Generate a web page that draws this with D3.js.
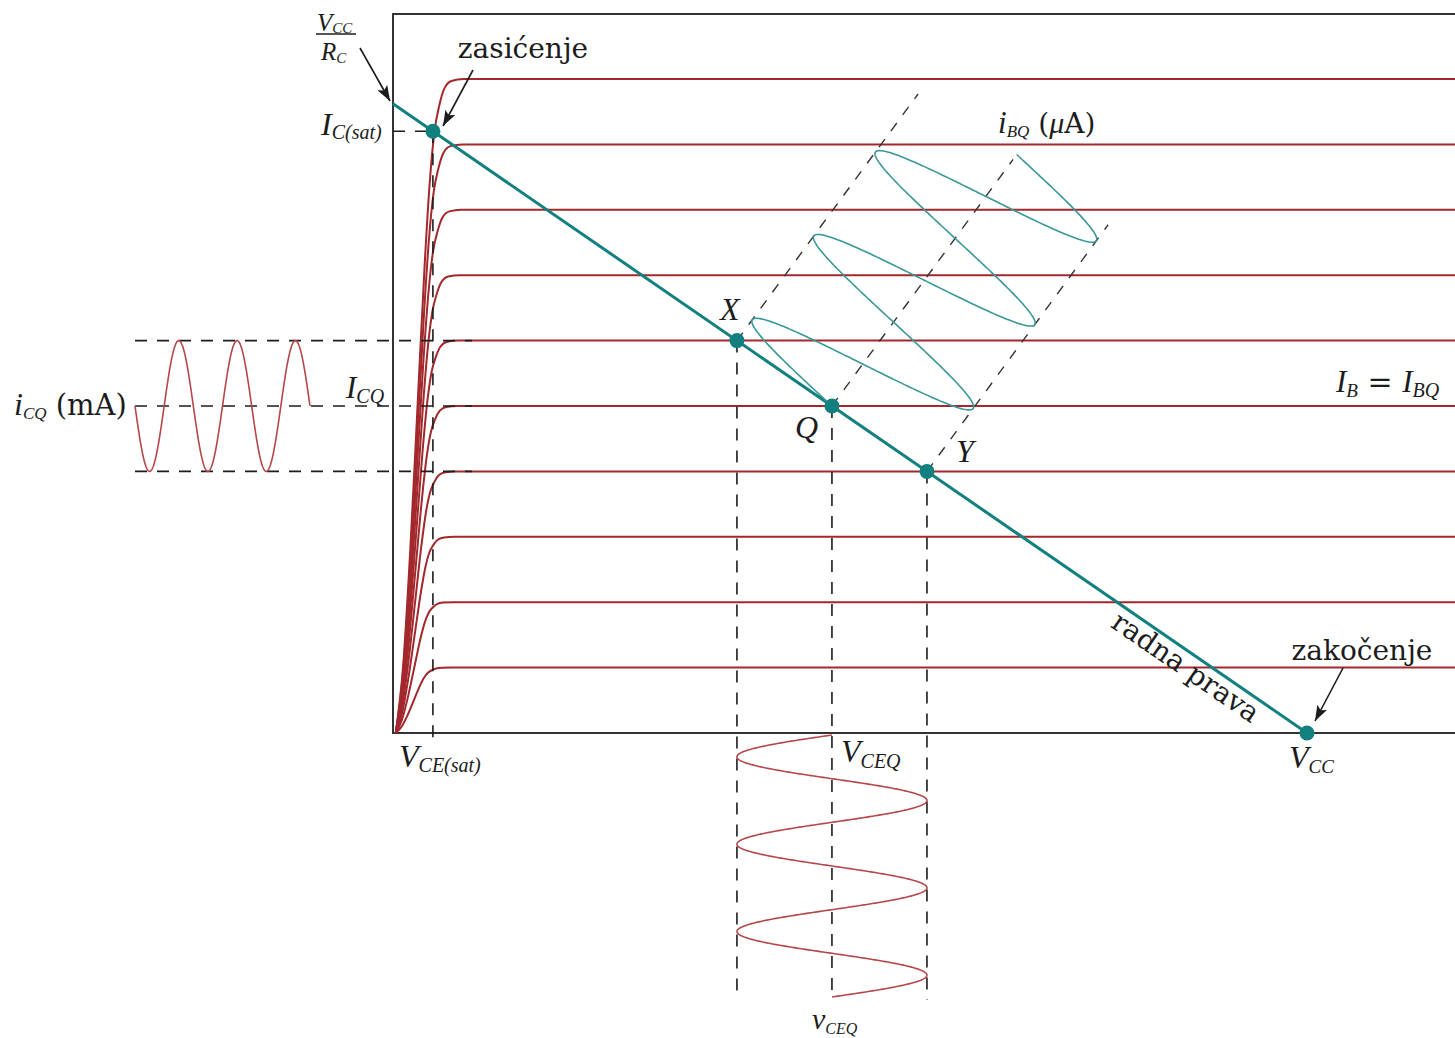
<!DOCTYPE html>
<html>
<head>
<meta charset="utf-8">
<script src="https://cdn.jsdelivr.net/npm/d3@7"></script>
<style>
  body { margin: 0; background: #fff; }
  svg { display: block; }
</style>
</head>
<body>
<svg id="chart" width="1455" height="1038"></svg>
<script>
// ---- values ----------------------------------------------------------
// collector-current levels (mA) of the IB characteristic family
const curveLevels = [1, 2, 3, 4, 5, 6, 7, 8, 9, 10];
// shared knee profile of a characteristic: fraction of knee width -> fraction of level
const kneeU = [0, 0.15, 0.3, 0.45, 0.6, 0.7, 0.8, 0.9, 1.0, 1.15, 1.4];
const kneeF = [0, 0.1, 0.28, 0.5, 0.72, 0.84, 0.92, 0.96, 0.985, 0.997, 1];
// knee width (V) of each characteristic
const kneeWidth = [0.44, 0.45, 0.46, 0.47, 0.48, 0.49, 0.50, 0.51, 0.52, 0.53];
const kneeStart = 0.03;     // V
const vceMax = 11.7;        // V, right end of the drawn characteristics
// load line end points
const VCC = 10;             // V
const ICmax = 9.62;         // mA  (VCC / RC)
const ICsat = 9.2;          // mA
// operating points on the load line: name -> IC (mA)
const pointNames = ["X", "Q", "Y"];
const pointIC = [6, 5, 4];
const ICQ = 5, dIC = 1;     // quiescent current and signal swing (mA)
const cycles = 3;           // periods shown for each signal

// ---- layout ----------------------------------------------------------
const svg = d3.select("#chart");
const x = d3.scaleLinear().domain([0, VCC]).range([393, 1307]);
const y = d3.scaleLinear().domain([0, 10]).range([733, 79]);

const RED = "#a3282c", RED_SIG = "#b5474b", TEAL = "#12807f", TEAL_SIG = "#3a9898", INK = "#1c1c1c";
const MATH = "Liberation Serif", TEXT = "DejaVu Serif";

// VCE on the load line for a given IC
const vOnLoad = ic => VCC * (1 - ic / ICmax);

svg.append("defs").append("marker")
  .attr("id", "arrow").attr("viewBox", "0 0 14 10").attr("refX", 14).attr("refY", 5)
  .attr("markerWidth", 16).attr("markerHeight", 11).attr("markerUnits", "userSpaceOnUse")
  .attr("orient", "auto")
  .append("path").attr("d", "M0,0 L14,5 L0,10 L3,5 Z").attr("fill", INK);

// frame (axes)
svg.append("path")
  .attr("d", `M1455,${y(0) - 719} H${x(0)} V${y(0)} H1455`)
  .attr("fill", "none").attr("stroke", "#333").attr("stroke-width", 2);

// characteristic curves
const curveLine = d3.line().x(d => x(d[0])).y(d => y(d[1])).curve(d3.curveMonotoneX);
curveLevels.forEach((L, i) => {
  const pts = kneeU.map((u, j) => [kneeStart + u * kneeWidth[i], L * kneeF[j]]);
  pts.push([vceMax, L]);
  svg.append("path").attr("d", curveLine(pts))
    .attr("fill", "none").attr("stroke", RED).attr("stroke-width", 2);
});

// dashed guide lines
const dash = (x1, y1, x2, y2, arr = "12,10", col = INK, w = 1.6) =>
  svg.append("line").attr("x1", x1).attr("y1", y1).attr("x2", x2).attr("y2", y2)
    .attr("stroke", col).attr("stroke-width", w).attr("stroke-dasharray", arr);

const vSat = vOnLoad(ICsat);
dash(x(0), y(ICsat), x(vSat), y(ICsat));
dash(x(vSat), y(ICsat), x(vSat), y(0) + 7);

pointIC.forEach(ic => {
  dash(135, y(ic), 472, y(ic));
  dash(x(vOnLoad(ic)), y(ic), x(vOnLoad(ic)), 1000);
});

// time axis of the base-current signal, drawn obliquely from X, Q and Y
const dir = [0.592, -0.806];
const periodPx = 104;
const guideLen = 306;
pointIC.forEach(ic => {
  const px = x(vOnLoad(ic)), py = y(ic);
  dash(px, py, px + dir[0] * guideLen, py + dir[1] * guideLen, "10,10", "#333", 1.4);
});

// load line
svg.append("line")
  .attr("x1", x(0)).attr("y1", y(ICmax)).attr("x2", x(VCC)).attr("y2", y(0))
  .attr("stroke", TEAL).attr("stroke-width", 3);

// signals
const sN = d3.range(0, cycles + 1e-9, cycles / 600);
const sig = d3.line().curve(d3.curveLinear);

// collector current iC(t), time running right
const tI = d3.scaleLinear().domain([0, cycles]).range([135, 310]);
svg.append("path")
  .attr("d", sig(sN.map(s => [tI(s), y(ICQ - dIC * Math.sin(2 * Math.PI * s))])))
  .attr("fill", "none").attr("stroke", RED_SIG).attr("stroke-width", 1.6);

// collector-emitter voltage vCE(t), time running down
const tV = d3.scaleLinear().domain([0, cycles]).range([735, 997]);
const vQ = vOnLoad(ICQ), dV = vQ - vOnLoad(ICQ + dIC);
svg.append("path")
  .attr("d", sig(sN.map(s => [x(vQ - dV * Math.sin(2 * Math.PI * s)), tV(s)])))
  .attr("fill", "none").attr("stroke", RED_SIG).attr("stroke-width", 1.6);

// base current iB(t) swinging along the load line
svg.append("path")
  .attr("d", sig(sN.map(s => {
    const ic = ICQ + dIC * Math.sin(2 * Math.PI * s);
    const t = s * periodPx;
    return [x(vOnLoad(ic)) + dir[0] * t, y(ic) + dir[1] * t];
  })))
  .attr("fill", "none").attr("stroke", TEAL_SIG).attr("stroke-width", 1.6);

// operating points
const dots = [[vSat, ICsat], ...pointIC.map(ic => [vOnLoad(ic), ic]), [VCC, 0]];
svg.selectAll("circle.pt").data(dots).join("circle")
  .attr("cx", d => x(d[0])).attr("cy", d => y(d[1])).attr("r", 7.5).attr("fill", TEAL);

// ---- labels ------------------------------------------------------------
function label(px, py, parts, anchor = "start") {
  const t = svg.append("text").attr("x", px).attr("y", py)
    .attr("text-anchor", anchor).attr("fill", INK);
  let shift = 0;
  parts.forEach(p => {
    const sp = t.append("tspan").text(p.t)
      .attr("font-family", p.f || MATH).attr("font-size", p.s)
      .attr("font-style", p.it === false ? "normal" : "italic");
    const target = p.sub || 0;
    if (target !== shift) { sp.attr("dy", target - shift); shift = target; }
  });
  return t;
}

// VCC / RC
label(317, 31, [{ t: "V", s: 25 }, { t: "CC", s: 15, sub: 2 }]);
svg.append("line").attr("x1", 316).attr("x2", 356).attr("y1", 34).attr("y2", 34)
  .attr("stroke", INK).attr("stroke-width", 1.5);
label(321, 60, [{ t: "R", s: 25 }, { t: "C", s: 15, sub: 3 }]);
svg.append("line").attr("x1", 360).attr("y1", 48).attr("x2", 390).attr("y2", 101)
  .attr("stroke", INK).attr("stroke-width", 1.6).attr("marker-end", "url(#arrow)");

label(523, 58, [{ t: "zasićenje", s: 28, f: TEXT, it: false }], "middle");
svg.append("line").attr("x1", 473).attr("y1", 70).attr("x2", 443).attr("y2", 126)
  .attr("stroke", INK).attr("stroke-width", 1.6).attr("marker-end", "url(#arrow)");

label(321, 135, [{ t: "I", s: 32 }, { t: "C(sat)", s: 20, sub: 4 }]);
label(346, 398, [{ t: "I", s: 31 }, { t: "CQ", s: 20, sub: 5 }]);
label(14, 415, [{ t: "i", s: 32 }, { t: "CQ", s: 17, sub: 4 }, { t: " (mA)", s: 29, f: TEXT, it: false, sub: 0 }]);
label(998, 133, [{ t: "i", s: 31 }, { t: "BQ", s: 17, sub: 4 },
  { t: " (", s: 28, f: TEXT, it: false, sub: 0 }, { t: "μ", s: 30 }, { t: "A)", s: 28, f: TEXT, it: false }]);
label(1336, 392, [{ t: "I", s: 31 }, { t: "B", s: 19, sub: 5 }, { t: " = ", s: 30, f: TEXT, it: false, sub: 0 },
  { t: "I", s: 31 }, { t: "BQ", s: 20, sub: 5 }]);

label(720, 320, [{ t: "X", s: 32 }]);
label(795, 438, [{ t: "Q", s: 32 }]);
label(956, 462, [{ t: "Y", s: 32 }]);

label(399, 767, [{ t: "V", s: 32 }, { t: "CE(sat)", s: 20, sub: 5 }]);
label(841, 762, [{ t: "V", s: 32 }, { t: "CEQ", s: 20, sub: 6 }]);
label(1289, 768, [{ t: "V", s: 32 }, { t: "CC", s: 19, sub: 5 }]);
label(812, 1029, [{ t: "v", s: 30 }, { t: "CEQ", s: 16, sub: 5 }]);

label(1362, 660, [{ t: "zakočenje", s: 28, f: TEXT, it: false }], "middle");
svg.append("line").attr("x1", 1343).attr("y1", 668).attr("x2", 1315).attr("y2", 721)
  .attr("stroke", INK).attr("stroke-width", 1.6).attr("marker-end", "url(#arrow)");

// "radna prava" along the load line, below it
const ang = Math.atan2(y(0) - y(ICmax), x(VCC) - x(0));
const lx = 1194, ly = y(ICmax) + (lx - x(0)) * Math.tan(ang);
const off = 24;
svg.append("text")
  .attr("transform", `translate(${lx - Math.sin(ang) * off},${ly + Math.cos(ang) * off}) rotate(${ang * 180 / Math.PI})`)
  .attr("text-anchor", "middle").attr("font-family", TEXT).attr("font-size", 28).attr("fill", INK)
  .text("radna prava");
</script>
</body>
</html>
